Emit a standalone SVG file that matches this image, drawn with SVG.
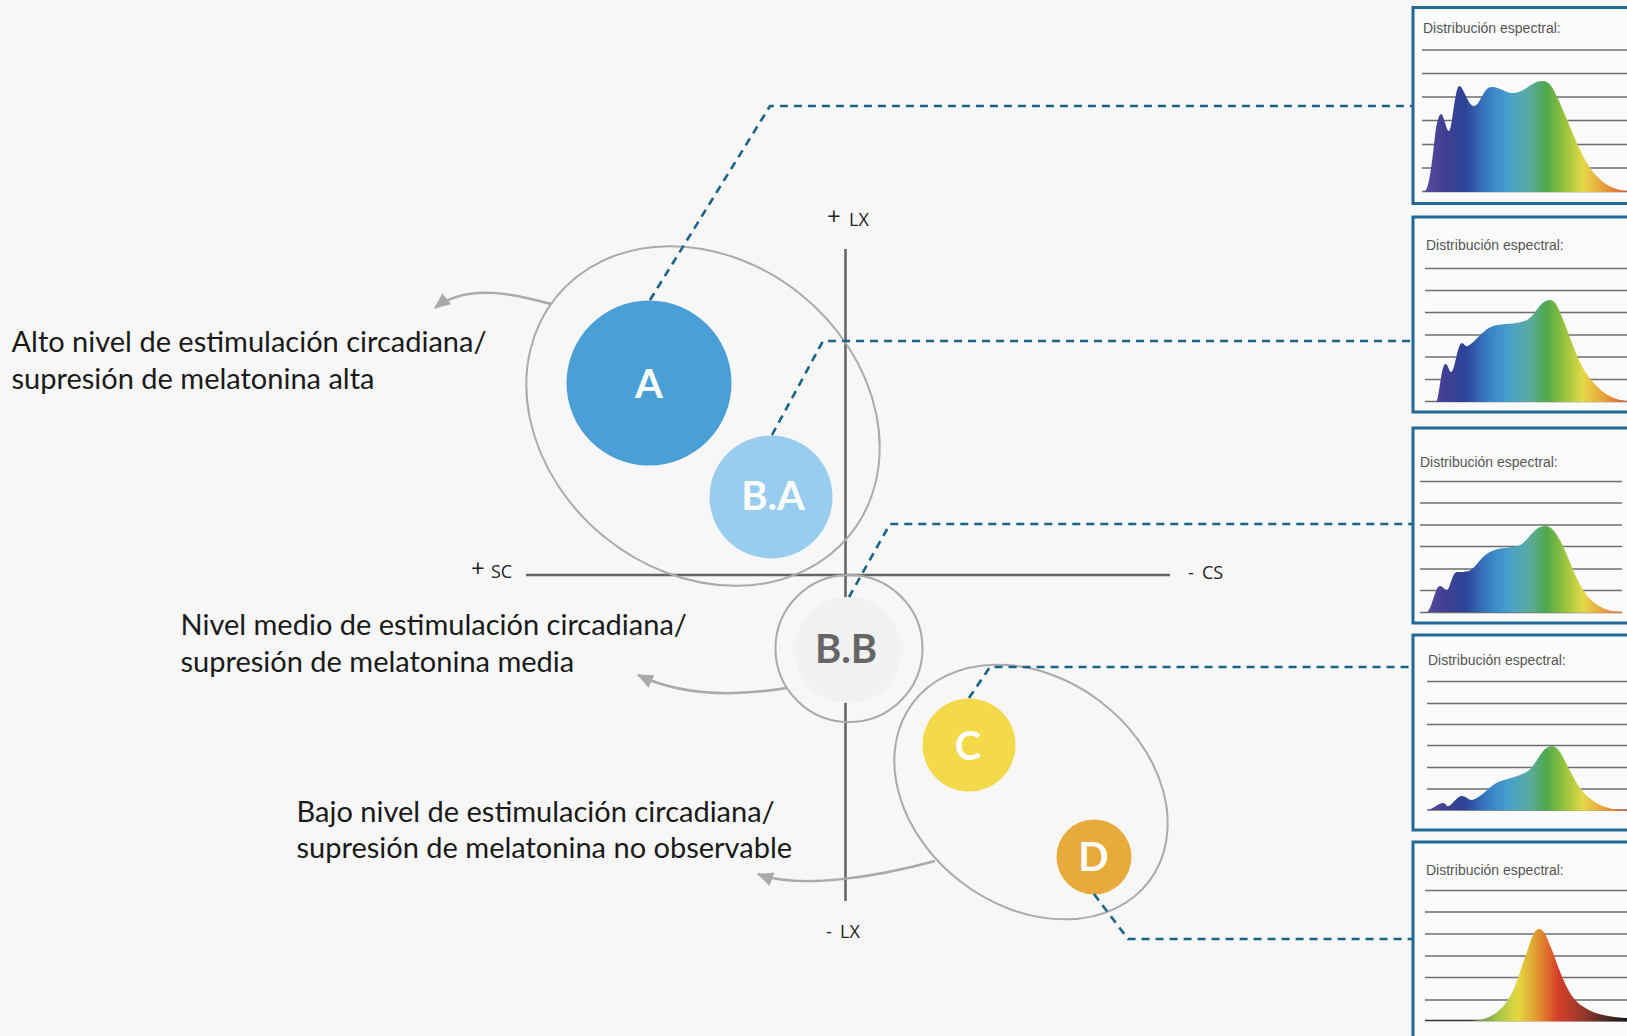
<svg xmlns="http://www.w3.org/2000/svg" width="1627" height="1036" viewBox="0 0 1627 1036">
  <style>
    .bg { fill: #f7f7f7; }
    .axis { stroke: #666666; stroke-width: 2.6; fill: none; }
    .axlbl { font-family: "Open Sans", "Noto Sans", sans-serif; font-size: 18px; fill: #222222; }
    .axsign { font-size: 24px; }
    .group { fill: none; stroke: #aaaaaa; stroke-width: 2; }
    .curve { fill: none; stroke: #aaaaaa; stroke-width: 2.5; }
    .dash { fill: none; stroke: #1a6388; stroke-width: 2.6; stroke-dasharray: 8 6; stroke-linejoin: round; }
    .note { font-family: Lato, "Liberation Sans", sans-serif; font-size: 29px; fill: #1a1a1a; }
    .dot { font-family: Lato, "Liberation Sans", sans-serif; font-weight: bold; font-size: 40px; text-anchor: middle; fill: #ffffff; }
    .panel { fill: #fbfbfb; stroke: #226896; stroke-width: 3; }
    .ptitle { font-family: "Liberation Sans", Arial, sans-serif; font-size: 14px; fill: #555555; }
    .grid { stroke: #6e6e6e; stroke-width: 1.5; }
  </style>
  <defs>
    <marker id="arrowhead" viewBox="0 0 16 14" refX="15" refY="7" markerWidth="16" markerHeight="14" markerUnits="userSpaceOnUse" orient="auto">
      <path d="M0,0 L16,7 L0,14 Z" fill="#aaaaaa"/>
    </marker>
    <linearGradient id="spectrum" gradientUnits="userSpaceOnUse" x1="1425" y1="0" x2="1627" y2="0">
      <stop offset="0" stop-color="#5b4c9e"/>
      <stop offset="0.1" stop-color="#3f3f92"/>
      <stop offset="0.2" stop-color="#2b4598"/>
      <stop offset="0.33" stop-color="#3a86c8"/>
      <stop offset="0.42" stop-color="#4aa0cc"/>
      <stop offset="0.52" stop-color="#5aab9c"/>
      <stop offset="0.6" stop-color="#4ea84c"/>
      <stop offset="0.7" stop-color="#a0c53e"/>
      <stop offset="0.78" stop-color="#e4d748"/>
      <stop offset="0.88" stop-color="#e8a43e"/>
      <stop offset="1" stop-color="#d9582c"/>
    </linearGradient>
    <linearGradient id="spectrumWarm" gradientUnits="userSpaceOnUse" x1="1480" y1="0" x2="1627" y2="0">
      <stop offset="0" stop-color="#6f9e5a"/>
      <stop offset="0.12" stop-color="#a6c646"/>
      <stop offset="0.26" stop-color="#e6d742"/>
      <stop offset="0.37" stop-color="#e3a232"/>
      <stop offset="0.46" stop-color="#de6a2a"/>
      <stop offset="0.53" stop-color="#d5402a"/>
      <stop offset="0.68" stop-color="#a03a2c"/>
      <stop offset="0.85" stop-color="#502a26"/>
      <stop offset="1" stop-color="#151515"/>
    </linearGradient>
  </defs>

  <rect class="bg" x="0" y="0" width="1627" height="1036"/>

  <!-- quadrant axes -->
  <g id="axes">
    <line class="axis" x1="845.5" y1="249" x2="845.5" y2="901"/>
    <line class="axis" x1="526" y1="575" x2="1170" y2="575"/>
    <text class="axlbl"><tspan class="axsign" x="827" y="225">+</tspan><tspan x="849" y="225.5">LX</tspan></text>
    <text class="axlbl"><tspan class="axsign" x="471" y="577">+</tspan><tspan x="491" y="577.5">SC</tspan></text>
    <text class="axlbl"><tspan x="1188" y="579">-</tspan><tspan x="1202" y="579">CS</tspan></text>
    <text class="axlbl"><tspan x="826" y="938">-</tspan><tspan x="840" y="938">LX</tspan></text>
  </g>

  <!-- level descriptions -->
  <g id="label-high">
    <text class="note" x="11.5" y="352">Alto nivel de estimulación circadiana/</text>
    <text class="note" x="11.5" y="389">supresión de melatonina alta</text>
  </g>
  <g id="label-medium">
    <text class="note" x="180.5" y="635">Nivel medio de estimulación circadiana/</text>
    <text class="note" x="180.5" y="671.5">supresión de melatonina media</text>
  </g>
  <g id="label-low">
    <text class="note" x="296.5" y="821.5">Bajo nivel de estimulación circadiana/</text>
    <text class="note" x="296.5" y="858">supresión de melatonina no observable</text>
  </g>

  <!-- grouping outlines -->
  <g id="group-high">
    <ellipse class="group" cx="703" cy="416" rx="189" ry="156" transform="rotate(39 703 416)"/>
  </g>
  <g id="group-low">
    <ellipse class="group" cx="1031" cy="792" rx="148" ry="114" transform="rotate(37 1031 792)"/>
  </g>

  <!-- light sources -->
  <g id="node-A">
    <circle cx="649" cy="383" r="82.5" fill="#4b9fd7"/>
    <text class="dot" x="649" y="398">A</text>
  </g>
  <g id="node-BA">
    <circle cx="771" cy="497" r="61.5" fill="#98cdf0"/>
    <text class="dot" x="773" y="510">B.A</text>
  </g>
  <g id="node-BB">
    <circle cx="849" cy="648.5" r="73.5" fill="none" stroke="#aaaaaa" stroke-width="2"/>
    <circle cx="848" cy="650" r="53" fill="#f1f1f1"/>
    <text class="dot" x="846" y="662.5" style="fill:#666666">B.B</text>
  </g>
  <g id="node-C">
    <circle cx="969" cy="745" r="46.5" fill="#f4d94b"/>
    <text class="dot" x="968" y="759.5">C</text>
  </g>
  <g id="node-D">
    <circle cx="1094" cy="857" r="37.5" fill="#e8aa3a"/>
    <text class="dot" x="1093.5" y="870.5">D</text>
  </g>

  <!-- spectral distribution panels -->
  <g id="panel-A">
    <rect class="panel" x="1413" y="7.5" width="230" height="196"/>
    <text class="ptitle" x="1423" y="33">Distribución espectral:</text>
    <g class="grid">
      <line x1="1422" y1="50" x2="1627" y2="50"/>
      <line x1="1422" y1="73.5" x2="1627" y2="73.5"/>
      <line x1="1422" y1="97" x2="1627" y2="97"/>
      <line x1="1422" y1="120.5" x2="1627" y2="120.5"/>
      <line x1="1422" y1="144.5" x2="1627" y2="144.5"/>
      <line x1="1422" y1="168" x2="1627" y2="168"/>
      <line x1="1422" y1="191.5" x2="1627" y2="191.5"/>
    </g>
    <path fill="url(#spectrum)" d="M1424,192 C1430,191 1433,150 1436,128 C1438,117 1440,114 1441,114 C1444,114 1446,131 1449,131 C1452,131 1455,87 1459,86 C1463,85 1468,106 1474,106 C1480,106 1483,88 1491,87 C1499,86 1506,94 1515,93 C1525,92 1532,81 1542,81 C1550,81 1553,88 1558,99 C1568,120 1578,150 1590,168 C1600,182 1612,190 1627,191 L1627,192 Z"/>
  </g>
  <g id="panel-BA">
    <rect class="panel" x="1413" y="217" width="230" height="195"/>
    <text class="ptitle" x="1426" y="249.5">Distribución espectral:</text>
    <g class="grid">
      <line x1="1425" y1="268.5" x2="1627" y2="268.5"/>
      <line x1="1425" y1="290.5" x2="1627" y2="290.5"/>
      <line x1="1425" y1="312.5" x2="1627" y2="312.5"/>
      <line x1="1425" y1="335" x2="1627" y2="335"/>
      <line x1="1425" y1="357" x2="1627" y2="357"/>
      <line x1="1425" y1="379.5" x2="1627" y2="379.5"/>
      <line x1="1425" y1="401.5" x2="1627" y2="401.5"/>
    </g>
    <path fill="url(#spectrum)" d="M1436,402 C1439,401 1441,366 1445,364 C1448,363 1449,372 1451,372 C1455,372 1457,344 1462,343 C1464,343 1465,347 1468,346 C1478,340 1484,327 1497,325 C1510,323 1518,324 1527,320 C1535,316 1540,300 1550,300 C1556,300 1559,310 1564,322 C1572,342 1578,362 1588,376 C1600,392 1612,400 1627,401 L1627,402 Z"/>
  </g>
  <g id="panel-BB">
    <rect class="panel" x="1413" y="428" width="230" height="195"/>
    <text class="ptitle" x="1420" y="467">Distribución espectral:</text>
    <g class="grid">
      <line x1="1420" y1="481.5" x2="1622" y2="481.5"/>
      <line x1="1420" y1="503" x2="1622" y2="503"/>
      <line x1="1420" y1="525" x2="1622" y2="525"/>
      <line x1="1420" y1="546.5" x2="1622" y2="546.5"/>
      <line x1="1420" y1="569" x2="1622" y2="569"/>
      <line x1="1420" y1="590.5" x2="1622" y2="590.5"/>
      <line x1="1420" y1="612.5" x2="1622" y2="612.5"/>
    </g>
    <path fill="url(#spectrum)" d="M1427,612 C1432,610 1435,586 1440,586 C1443,586 1444,590 1447,590 C1450,590 1452,572 1457,572 C1462,572 1464,572 1469,571 C1476,568 1481,555 1492,551 C1502,547 1510,548 1518,546 C1528,543 1533,526 1545,526 C1552,526 1556,533 1561,542 C1570,560 1576,582 1588,597 C1598,608 1610,612 1622,612 L1622,613 Z"/>
  </g>
  <g id="panel-C">
    <rect class="panel" x="1413" y="635" width="230" height="195"/>
    <text class="ptitle" x="1428" y="664.5">Distribución espectral:</text>
    <g class="grid">
      <line x1="1427" y1="681.5" x2="1627" y2="681.5"/>
      <line x1="1427" y1="703.5" x2="1627" y2="703.5"/>
      <line x1="1427" y1="724.5" x2="1627" y2="724.5"/>
      <line x1="1427" y1="745.5" x2="1627" y2="745.5"/>
      <line x1="1427" y1="767.5" x2="1627" y2="767.5"/>
      <line x1="1427" y1="789" x2="1627" y2="789"/>
      <line x1="1427" y1="810" x2="1627" y2="810"/>
    </g>
    <path fill="url(#spectrum)" d="M1427,810 C1434,809 1438,803 1443,803 C1446,803 1446,807 1449,806 C1453,804 1457,796 1462,796 C1466,796 1468,800 1472,800 C1482,798 1490,784 1501,781 C1510,778 1520,776 1528,771 C1537,764 1542,746 1552,746 C1558,746 1562,755 1567,765 C1574,778 1580,792 1592,800 C1603,808 1614,810 1627,810 L1627,811 Z"/>
  </g>
  <g id="panel-D">
    <rect class="panel" x="1413" y="842" width="230" height="210"/>
    <text class="ptitle" x="1426" y="875">Distribución espectral:</text>
    <g class="grid">
      <line x1="1425" y1="890.5" x2="1627" y2="890.5"/>
      <line x1="1425" y1="912" x2="1627" y2="912"/>
      <line x1="1425" y1="934" x2="1627" y2="934"/>
      <line x1="1425" y1="956" x2="1627" y2="956"/>
      <line x1="1425" y1="977.5" x2="1627" y2="977.5"/>
      <line x1="1425" y1="1000" x2="1627" y2="1000"/>
      <line x1="1425" y1="1020.5" x2="1627" y2="1020.5" stroke="#333333"/>
    </g>
    <path fill="url(#spectrumWarm)" d="M1470,1021 C1490,1020 1500,1012 1508,1000 C1516,988 1520,970 1526,955 C1531,940 1534,929 1539,929 C1544,929 1547,938 1552,950 C1558,966 1563,982 1572,996 C1582,1010 1600,1017 1627,1018 L1627,1021.5 Z"/>
  </g>

  <!-- connectors -->
  <g id="connectors">
    <path class="curve" marker-end="url(#arrowhead)" d="M551,304 C518,295 468,282 435,308"/>
    <path class="curve" marker-end="url(#arrowhead)" d="M787,688 C750,694 690,700 638,675"/>
    <path class="curve" marker-end="url(#arrowhead)" d="M935,861 C880,876 800,890 758,874"/>
    <path class="dash" d="M650,300 L770,106 L1412,106"/>
    <path class="dash" d="M772,435 L823,341 L1412,341"/>
    <path class="dash" d="M849,597 L890,524 L1412,524"/>
    <path class="dash" d="M969,698 L990,667 L1412,667"/>
    <path class="dash" d="M1094,894 L1128,939 L1412,939"/>
  </g>
</svg>
